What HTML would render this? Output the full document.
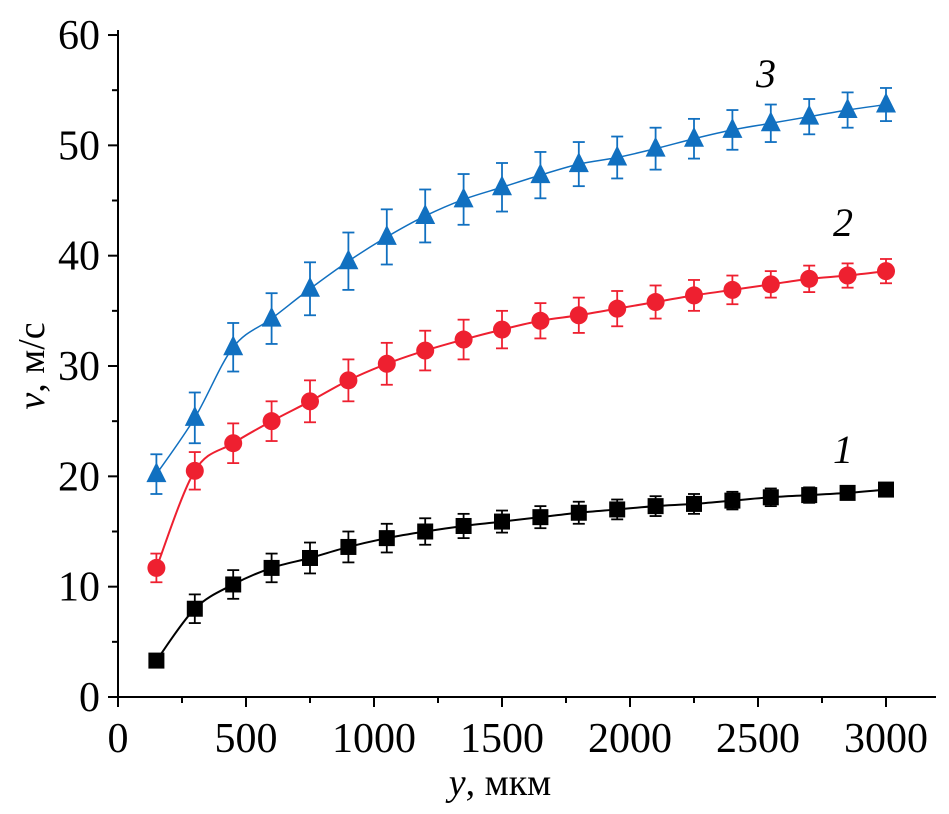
<!DOCTYPE html>
<html><head><meta charset="utf-8"><style>
body{margin:0;background:#fff}
svg{display:block;font-family:"Liberation Serif",serif}
</style></head><body>
<svg id="c" width="949" height="814"></svg>
<script>
const xs=[150,300,450,600,750,900,1050,1200,1350,1500,1650,1800,1950,2100,2250,2400,2550,2700,2850,3000];
const s1=[3.3,8.0,10.2,11.7,12.6,13.6,14.4,15.0,15.5,15.9,16.3,16.7,17.0,17.3,17.5,17.8,18.1,18.3,18.5,18.8];
const e1=[0,1.3,1.3,1.3,1.4,1.4,1.3,1.2,1.1,1.0,1.0,1.0,0.9,0.9,0.9,0.8,0.8,0.7,0.6,0];
const s2=[11.7,20.5,23.0,25.0,26.8,28.7,30.2,31.4,32.4,33.3,34.1,34.6,35.2,35.8,36.4,36.9,37.4,37.9,38.2,38.6];
const e2=[1.3,1.7,1.8,1.8,1.9,1.9,1.9,1.8,1.8,1.7,1.6,1.6,1.6,1.5,1.4,1.3,1.2,1.2,1.1,1.1];
const s3=[20.2,25.3,31.7,34.3,37.0,39.5,41.7,43.6,45.1,46.2,47.3,48.3,48.9,49.7,50.6,51.4,52.0,52.6,53.2,53.7];
const e3=[1.8,2.3,2.2,2.3,2.4,2.6,2.5,2.4,2.3,2.2,2.1,2.0,1.9,1.9,1.8,1.8,1.7,1.6,1.6,1.5];
const xTicks=[0,500,1000,1500,2000,2500,3000];
const yTicks=[0,10,20,30,40,50,60];
const X=v=>118+v*0.256, Y=v=>697-v*11.033;
const svg=document.getElementById('c');const NS='http://www.w3.org/2000/svg';
function mk(t,a,p){const e=document.createElementNS(NS,t);for(const k in a)e.setAttribute(k,a[k]);(p||svg).appendChild(e);return e;}
let e;
e=mk('line',{x1:118,y1:697,x2:936,y2:697,stroke:'#000','stroke-width':2});


e=mk('line',{x1:118,y1:30,x2:118,y2:697,stroke:'#000','stroke-width':2});


for(let v=0;v<=3200;v+=250){const maj=v%500==0;e=mk('line',{x1:X(v),x2:X(v),y1:697,y2:697+(maj?10:6),stroke:'#000','stroke-width':2});

}
xTicks.forEach(v=>{e=mk('text',{x:X(v),y:752,'text-anchor':'middle','font-size':42});e.textContent=v;

});
for(let v=0;v<=60;v+=5){const maj=v%10==0;e=mk('line',{x1:118-(maj?10:6),x2:118,y1:Y(v),y2:Y(v),stroke:'#000','stroke-width':2});

}
yTicks.forEach(v=>{e=mk('text',{x:100,y:Y(v)+14,'text-anchor':'end','font-size':42});e.textContent=v;

});
e=mk('text',{x:500,y:795,'text-anchor':'middle','font-size':38});e.innerHTML='<tspan font-style="italic">y</tspan>, мкм';


e=mk('text',{x:0,y:0,'text-anchor':'middle','font-size':38,transform:'translate(44,366) rotate(-90)'});e.innerHTML='<tspan font-style="italic">v</tspan>, м/с';


function path(ys){const p=xs.map((x,i)=>[X(x),Y(ys[i])]);let d='M'+p[0];for(let i=0;i<p.length-1;i++){const a=p[i-1]||p[i],b=p[i],c=p[i+1],n=p[i+2]||c;d+=` C${b[0]+(c[0]-a[0])/6},${b[1]+(c[1]-a[1])/6} ${c[0]-(n[0]-b[0])/6},${c[1]-(n[1]-b[1])/6} ${c[0]},${c[1]}`;}return d;}
function series(ys,es,col,shape,name,lw){
const g=mk('g',{});
mk('path',{d:path(ys),fill:'none',stroke:col,'stroke-width':lw},g);
xs.forEach((x,i)=>{const cx=X(x),t=Y(ys[i]+es[i]),b=Y(ys[i]-es[i]);
if(es[i]>0){mk('line',{x1:cx,x2:cx,y1:t,y2:b,stroke:col,'stroke-width':1.8},g);mk('line',{x1:cx-6,x2:cx+6,y1:t,y2:t,stroke:col,'stroke-width':1.8},g);mk('line',{x1:cx-6,x2:cx+6,y1:b,y2:b,stroke:col,'stroke-width':1.8},g);}
const cy=Y(ys[i]);let m;
if(shape=='sq')m=mk('rect',{x:cx-8,y:cy-8,width:16,height:16,fill:col},g);
else if(shape=='ci')m=mk('circle',{cx,cy,r:9,fill:col},g);
else m=mk('polygon',{points:`${cx},${cy-12} ${cx-10},${cy+8} ${cx+10},${cy+8}`,fill:col},g);

});}
series(s3,e3,'#1170c0','tr','series-3',1.5);
series(s2,e2,'#ee2030','ci','series-2',2);
series(s1,e1,'#000','sq','series-1',2);
[['3',766,87],['2',843,236],['1',843,463]].forEach(([t,x,y])=>{e=mk('text',{x,y,'font-size':40,'font-style':'italic','text-anchor':'middle'});e.textContent=t;

});
</script>
</body></html>
